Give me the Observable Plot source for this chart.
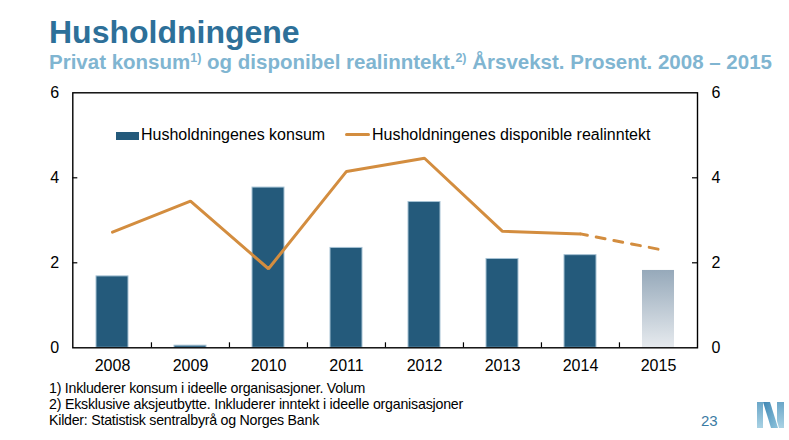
<!DOCTYPE html>
<html>
<head>
<meta charset="utf-8">
<script src="https://cdn.jsdelivr.net/npm/d3@7"></script>
<script src="https://cdn.jsdelivr.net/npm/@observablehq/plot@0.6"></script>
<style>
  html, body { margin: 0; padding: 0; background: #fff; }
  #page { position: relative; width: 789px; height: 440px; overflow: hidden; font-family: "Liberation Sans", Arial, sans-serif; }
  .abs { position: absolute; white-space: nowrap; }
  #title { left: 49px; top: 15.6px; font-size: 32px; line-height: 32px; font-weight: bold; color: #2d7099; }
  #subtitle { left: 49px; top: 51.6px; font-size: 20.5px; line-height: 20.5px; font-weight: bold; color: #80b5d1; }
  #subtitle .sup { font-size: 12.5px; position: relative; top: -7px; }
  #chart { left: 0; top: 80px; }
  .leg { top: 126.5px; font-size: 16px; line-height: 16px; color: #000; }
  #notes { left: 49px; top: 380.4px; font-size: 14.2px; line-height: 16px; color: #000; }
  #notes span { display: inline-block; }
  #pagenum { left: 701px; top: 413px; font-size: 15px; line-height: 15px; color: #3b7ba4; }
  #logo { left: 757px; top: 402px; }
</style>
</head>
<body>
<div id="page">
  <div id="title" class="abs">Husholdningene</div>
  <div id="subtitle" class="abs">Privat konsum<span class="sup">1)</span> og disponibel realinntekt.<span class="sup">2)</span> Årsvekst. Prosent. 2008 – 2015</div>
  <div id="chart" class="abs"></div>
  <div id="leg1" class="abs leg" style="left:116px;"><span style="display:inline-block;width:23px;height:8px;background:#245a7b;vertical-align:0px;margin-right:2px;"></span>Husholdningenes konsum</div>
  <div id="leg2" class="abs leg" style="left:345px;"><span style="display:inline-block;width:25px;height:3px;background:#d38d3f;border-radius:2px;vertical-align:4px;margin-right:2px;"></span>Husholdningenes disponible realinntekt</div>
  <div id="notes" class="abs"><span data-w="316">1) Inkluderer konsum i ideelle organisasjoner. Volum</span><br><span data-w="414">2) Eksklusive aksjeutbytte. Inkluderer inntekt i ideelle organisasjoner</span><br><span data-w="270">Kilder: Statistisk sentralbyrå og Norges Bank</span></div>
  <div id="pagenum" class="abs">23</div>
  <svg id="logo" class="abs" width="28" height="26" viewBox="0 0 28 26">
    <defs>
      <linearGradient id="lg1" x1="0" y1="0" x2="0" y2="1">
        <stop offset="0" stop-color="#6aa6c8"/>
        <stop offset="1" stop-color="#a9d2e4"/>
      </linearGradient>
      <linearGradient id="lg2" x1="0" y1="0" x2="1" y2="1">
        <stop offset="0" stop-color="#3f86b3"/>
        <stop offset="1" stop-color="#8cc3dc"/>
      </linearGradient>
    </defs>
    <polygon points="0,0 6,0 6,26 0,26" fill="url(#lg1)"/>
    <polygon points="6,0 13,0 21,26 14,26" fill="url(#lg2)"/>
    <polygon points="20,0 27,0 27,26 22,26 20,19" fill="url(#lg1)"/>
  </svg>
</div>
<script>
const years = ["2008", "2009", "2010", "2011", "2012", "2013", "2014", "2015"];
const konsum = [1.68, 0.05, 3.77, 2.35, 3.43, 2.09, 2.18, 1.82];
const inntekt = [2.72, 3.45, 1.86, 4.15, 4.46, 2.74, 2.68, 2.32];
const yTicks = [0, 2, 4, 6];
const forecastYear = "2015";

const data = years.map((y, i) => ({year: y, konsum: konsum[i], inntekt: inntekt[i]}));
const actualLine = data.filter(d => d.year !== forecastYear);
const forecastLine = data.slice(data.length - 2);

const W = 789, H = 300;
const mL = 72.3, mR = 92, mT = 12.3, mB = 32.7;
const fw = W - mL - mR, fh = H - mT - mB;
const step = fw / years.length;
const barInset = 23;

const ns = "http://www.w3.org/2000/svg";
function gradientDefs() {
  const defs = document.createElementNS(ns, "defs");
  const g = document.createElementNS(ns, "linearGradient");
  g.setAttribute("id", "fcGrad");
  g.setAttribute("x1", "0"); g.setAttribute("y1", "0");
  g.setAttribute("x2", "0"); g.setAttribute("y2", "1");
  [["0", "#96a9ba"], ["1", "#e6eaee"]].forEach(([o, c]) => {
    const s = document.createElementNS(ns, "stop");
    s.setAttribute("offset", o); s.setAttribute("stop-color", c);
    g.appendChild(s);
  });
  defs.appendChild(g);
  return defs;
}

const chart = Plot.plot({
  width: W,
  height: H,
  marginLeft: mL,
  marginRight: mR,
  marginTop: mT,
  marginBottom: mB,
  style: {fontFamily: "'Liberation Sans', Arial, sans-serif", fontSize: "16px", color: "#000", background: "transparent"},
  x: {type: "band", domain: years, padding: 0, label: null},
  y: {domain: [0, 6], label: null},
  marks: [
    gradientDefs,
    Plot.barY(data.filter(d => d.year !== forecastYear), {x: "year", y: "konsum", fill: "#245a7b", stroke: "#a6c2d4", strokeWidth: 1, insetLeft: barInset, insetRight: barInset}),
    Plot.barY(data.filter(d => d.year === forecastYear), {x: "year", y: "konsum", fill: "url(#fcGrad)", insetLeft: barInset, insetRight: barInset}),
    Plot.line(actualLine, {x: "year", y: "inntekt", stroke: "#d38d3f", strokeWidth: 3, strokeLinejoin: "miter"}),
    Plot.line(forecastLine, {x: "year", y: "inntekt", stroke: "#d38d3f", strokeWidth: 3, strokeDasharray: "9,9", strokeDashoffset: 2}),
    Plot.ruleY(yTicks.slice(1, -1), {stroke: "#000", strokeWidth: 1.2, insetRight: fw - 5}),
    Plot.ruleY(yTicks.slice(1, -1), {stroke: "#000", strokeWidth: 1.2, insetLeft: fw - 5}),
    Plot.ruleX(years.slice(1), {stroke: "#000", strokeWidth: 1.2, dx: -step / 2, insetTop: fh - 5}),
    Plot.frame({stroke: "#000", strokeWidth: 1.4}),
    Plot.axisX({tickSize: 0, tickPadding: 12, fontSize: 16}),
    Plot.axisY({anchor: "left", ticks: yTicks, tickSize: 0, tickPadding: 13.6, fontSize: 16, tickFormat: d3.format("d")}),
    Plot.axisY({anchor: "right", ticks: yTicks, tickSize: 0, tickPadding: 14, fontSize: 16, tickFormat: d3.format("d")})
  ]
});
document.getElementById("chart").appendChild(chart);

// fit each footnote line to the width it has in the reference
document.querySelectorAll("#notes span[data-w]").forEach(s => {
  const target = +s.dataset.w;
  const w = s.getBoundingClientRect().width;
  const n = s.textContent.length;
  s.style.letterSpacing = ((target - w) / n) + "px";
});
</script>
</body>
</html>
